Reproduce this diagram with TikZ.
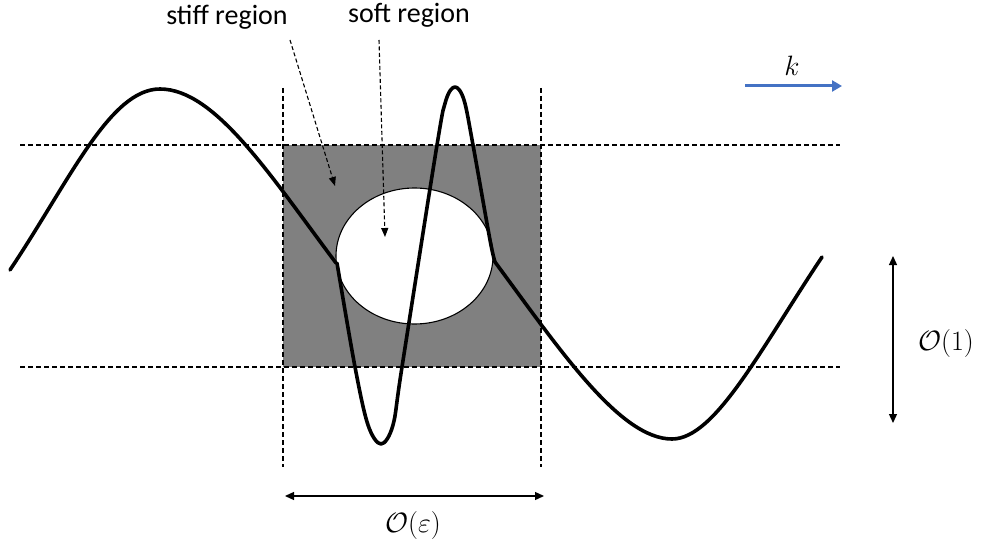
\RequirePackage{fix-cm}
\documentclass[tikz,border=0pt]{standalone}
\usepackage{fontspec}
\setmainfont{Carlito}
\usetikzlibrary{arrows.meta,shapes.geometric}
\definecolor{kblue}{HTML}{4472C4}
\definecolor{stiffgray}{HTML}{808080}
\begin{document}
\begin{tikzpicture}[x=1pt,y=-1pt,
  guide/.style={line width=1.1pt,dash pattern=on 5pt off 3pt},
  wave/.style={line width=3.6pt,line join=round,line cap=round},
  dimarrow/.style={line width=1.3pt,{Triangle[length=9pt,width=8pt]}-{Triangle[length=9pt,width=8pt]}},
  pointer/.style={line width=1.1pt,dash pattern=on 4pt off 2.5pt,-{Triangle[length=9pt,width=7pt]}},
  lbl/.style={font=\fontsize{28}{32}\selectfont,inner sep=0pt}]
\useasboundingbox (0,0) rectangle (990,540);
% gray stiff region
\fill[stiffgray] (283,145) rectangle (541,367);
% guide lines
\coordinate (tl) at (20,145); \coordinate (tr) at (840,145);
\coordinate (bl) at (20,367); \coordinate (br) at (840,367);
\coordinate (vl1) at (283,88); \coordinate (vl2) at (283,467);
\coordinate (vr1) at (541,88); \coordinate (vr2) at (541,467);
\draw[guide] (tl) -- (tr);
\draw[guide] (bl) -- (br);
\draw[guide] (vl1) -- (vl2);
\draw[guide] (vr1) -- (vr2);
% long wave
\coordinate (w0) at (10,270); \coordinate (wp) at (160,89); \coordinate (w1) at (336,263);
\coordinate (w2) at (495,262); \coordinate (wt) at (672,439); \coordinate (w3) at (822,257);
\draw[wave] (w0) .. controls (70,180) and (110,89) .. (wp) .. controls (215,89) and (270,175) .. (w1);
\draw[wave] (w2) .. controls (560,350) and (620,439) .. (wt) .. controls (715,439) and (760,350) .. (w3);
% soft region
\node[ellipse,draw,line width=1.1pt,fill=white,minimum width=157pt,minimum height=136pt,inner sep=0pt] (soft) at (414.5,256) {};
% short wave
\draw[wave] plot[smooth,tension=0.55] coordinates {(337,263) (355,367) (368,425) (381,444) (393,425) (402,367) (437,145) (446,100) (455,87) (464,100) (473,145) (490,240) (495,262)};
% labels and pointers
\node[lbl] (stiff) at (227,17) {stiff region};
\node[lbl] (softl) at (409,15) {soft region};
\coordinate (stiffend) at (335,186);
\coordinate (softend) at (385,237);
\draw[pointer] (290,40) -- (stiffend);
\draw[pointer] (379,40) -- (softend);
% k arrow
\coordinate (k1) at (745,86); \coordinate (k2) at (842,86);
\draw[kblue,line width=3pt,-{Triangle[length=10pt,width=11pt]}] (k1) -- (k2);
\node[lbl] (k) at (792,66) {$k$};
% O(1)
\coordinate (o1a) at (893,256); \coordinate (o1b) at (893,423);
\draw[dimarrow] (o1a) -- (o1b);
\node[lbl] (o1) at (946,343) {$\mathcal{O}(1)$};
% O(eps)
\coordinate (oea) at (285,496); \coordinate (oeb) at (544,496);
\draw[dimarrow] (oea) -- (oeb);
\node[lbl] (oe) at (413,525) {$\mathcal{O}(\varepsilon)$};
\end{tikzpicture}
\end{document}
